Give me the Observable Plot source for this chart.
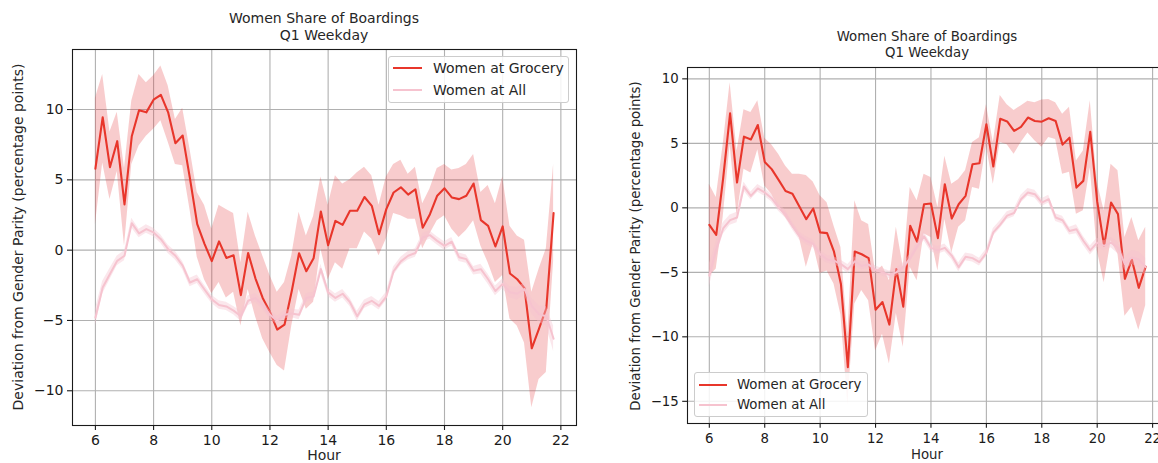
<!DOCTYPE html>
<html>
<head>
<meta charset="utf-8">
<script src="https://cdn.jsdelivr.net/npm/d3@7"></script>
<script src="https://cdn.jsdelivr.net/npm/@observablehq/plot@0.6"></script>
<style>
  html, body { margin: 0; padding: 0; background: #fff; overflow: hidden; }
  #wrap { position: relative; width: 1158px; height: 463px; overflow: hidden; background: #fff;
          font-family: "DejaVu Sans", sans-serif; color: #262626; }
  .pl { position: absolute; top: 0; }
  .pl svg { max-width: none !important; }
  .txt { position: absolute; white-space: nowrap; line-height: 1; }
  .title { position: absolute; text-align: center; white-space: nowrap; transform: translateX(-50%); }
  .ylab { position: absolute; white-space: nowrap; transform: translate(-50%, -50%) rotate(-90deg); line-height: 1; }
  .legend { position: absolute; background: rgba(255,255,255,0.85); border: 1px solid #cccccc; border-radius: 3px; box-sizing: border-box; }
  .legend .sw { position: absolute; height: 2px; }
  .legend .lt { position: absolute; white-space: nowrap; line-height: 1; transform: translateY(-50%); }
</style>
</head>
<body>
<div id="wrap"></div>
<script>
// ---- data (15-minute bins, Q1 weekday) ----
const hours = [
  6, 6.25, 6.5, 6.75, 7, 7.25, 7.5, 7.75,
  8, 8.25, 8.5, 8.75, 9, 9.25, 9.5, 9.75,
  10, 10.25, 10.5, 10.75, 11, 11.25, 11.5, 11.75,
  12, 12.25, 12.5, 12.75, 13, 13.25, 13.5, 13.75,
  14, 14.25, 14.5, 14.75, 15, 15.25, 15.5, 15.75,
  16, 16.25, 16.5, 16.75, 17, 17.25, 17.5, 17.75,
  18, 18.25, 18.5, 18.75, 19, 19.25, 19.5, 19.75,
  20, 20.25, 20.5, 20.75, 21, 21.25, 21.5, 21.75
];

// Left panel
const leftGrocery = [
  5.8, 9.45, 5.9, 7.75, 3.25, 8.1, 9.95, 9.8,
  10.7, 11.05, 9.8, 7.6, 8.15, 5.1, 1.85, 0.45,
  -0.78, 0.62, -0.55, -0.37, -3.2, -0.2, -2.0, -3.4,
  -4.4, -5.65, -5.3, -2.9, -0.22, -1.5, -0.58, 2.75,
  0.35, 2.08, 1.8, 2.8, 2.8, 3.78, 3.15, 1.13,
  2.92, 4.1, 4.47, 3.95, 4.33, 1.6, 2.56, 3.87,
  4.4, 3.75, 3.63, 3.87, 4.74, 2.14, 1.73, 0.26,
  1.69, -1.66, -2.07, -2.7, -6.98, -5.58, -4.13, 2.64
];
const leftGroceryHi = [
  10.8, 12.5, 8.4, 9.8, 5.8, 10.6, 12.5, 11.9,
  12.4, 13.1, 11.7, 9.3, 10.1, 7.2, 4.1, 3.2,
  1.5, 3.2, 2.9, 2.6, -0.9, 2.7, 1.0, -0.4,
  -1.8, -3.0, -2.3, -0.4, 2.7, 1.0, 2.4, 5.2,
  3.2, 5.3, 4.7, 5.0, 5.5, 5.9, 5.3, 3.2,
  5.2, 6.1, 6.4, 5.4, 5.9, 3.3, 4.35, 5.8,
  6.1, 5.7, 5.8, 6.1, 6.8, 4.1, 4.6, 3.3,
  5.2, 1.7, 1.0, 0.7, -3.0, -1.35, 0.1, 6.1
];
const leftGroceryLo = [
  1.8, 6.2, 3.6, 5.6, 0.3, 6.1, 7.4, 8.1,
  8.6, 9.2, 7.7, 6.1, 6.0, 2.9, -0.5, -2.1,
  -3.1, -2.3, -3.4, -3.0, -5.4, -2.8, -4.7, -6.3,
  -7.3, -8.2, -8.6, -5.4, -2.8, -4.2, -3.7, 0.1,
  -2.1, -0.9, -1.35, 0.1, 0.1, 1.3, 0.8, -0.4,
  0.8, 2.6, 2.45, 2.2, 2.2, 0.1, 1.15, 2.1,
  2.45, 1.5, 0.9, 1.4, 2.1, 0.3, -0.9, -2.3,
  -1.8, -4.9, -5.4, -6.6, -11.2, -9.2, -8.7, -0.8
];
const leftAll = [
  -4.8, -2.66, -1.7, -0.76, -0.4, 1.92, 1.19, 1.5,
  1.26, 0.78, 0.07, -0.4, -1.1, -2.3, -2.07, -2.8,
  -3.5, -3.9, -4.0, -4.3, -4.7, -3.6, -3.4, -3.9,
  -4.6, -5.0, -4.6, -4.5, -4.6, -3.4, -3.3, -1.35,
  -3.0, -3.4, -3.1, -3.7, -4.7, -3.85, -3.6, -3.96,
  -3.3, -1.5, -0.8, -0.4, -0.2, 0.9, 1.07, 0.66,
  0.3, 0.6, -0.5, -0.64, -1.47, -1.35, -2.07, -2.9,
  -2.4, -3.0, -3.1, -2.76, -3.97, -4.56, -4.7, -6.3
];
const leftAllErr = [
  0.6, 0.45, 0.4, 0.35, 0.35, 0.35, 0.3, 0.3,
  0.3, 0.3, 0.3, 0.3, 0.3, 0.3, 0.3, 0.3,
  0.3, 0.3, 0.3, 0.3, 0.35, 0.35, 0.3, 0.3,
  0.3, 0.3, 0.3, 0.3, 0.35, 0.3, 0.3, 0.35,
  0.3, 0.3, 0.3, 0.3, 0.35, 0.3, 0.3, 0.3,
  0.3, 0.3, 0.3, 0.3, 0.3, 0.3, 0.3, 0.3,
  0.3, 0.3, 0.3, 0.3, 0.3, 0.35, 0.35, 0.35,
  0.35, 0.4, 0.45, 0.45, 0.55, 0.6, 0.7, 0.9
];

// Right panel
const rightGrocery = [
  -1.32, -2.1, 2.3, 7.33, 1.96, 5.52, 5.3, 6.42,
  3.56, 3.0, 2.17, 1.3, 1.1, 0.1, -0.88, -0.05,
  -1.9, -1.96, -3.4, -5.9, -12.36, -3.38, -3.6, -3.9,
  -7.9, -7.3, -9.05, -4.75, -7.66, -1.39, -2.63, 0.28,
  0.34, -2.35, 1.83, -0.83, 0.28, 0.93, 3.38, 3.46,
  6.48, 3.2, 6.9, 6.7, 5.96, 6.27, 7.0, 6.73,
  6.68, 6.94, 6.73, 4.9, 5.44, 1.57, 2.09, 5.9,
  0.5, -2.95, 0.41, -0.49, -5.5, -4.0, -6.2, -4.56
];
const rightGroceryHi = [
  1.83, 0.8, 4.9, 9.7, 4.4, 7.6, 7.4, 8.3,
  5.4, 4.9, 4.15, 3.25, 2.6, 2.6, 2.5, 2.0,
  0.93, 0.4, -1.4, -3.07, -9.8, 0.54, -1.0, -1.3,
  -5.0, -4.5, -5.65, -1.5, -4.6, 1.57, 0.54, 2.6,
  2.35, 0.03, 4.0, 1.83, 2.2, 2.9, 5.06, 5.44,
  8.0, 5.06, 8.7, 8.0, 7.55, 7.9, 8.27, 8.15,
  8.36, 8.4, 8.15, 7.25, 7.8, 3.64, 4.4, 8.3,
  2.0, -0.23, 3.38, 2.87, -2.3, -0.75, -2.55, -1.5
];
const rightGroceryLo = [
  -5.3, -4.75, -0.75, 4.9, -0.6, 3.0, 2.7, 4.5,
  1.7, 1.06, 0.03, -0.75, -1.5, -2.3, -4.6, -2.8,
  -5.1, -4.9, -5.9, -8.3, -15.3, -7.46, -6.4, -7.2,
  -11.1, -9.8, -12.1, -8.2, -10.8, -4.6, -5.65, -2.0,
  -2.3, -4.9, -0.9, -3.5, -1.5, -1.0, 1.57, 1.44,
  4.8, 1.83, 5.06, 4.9, 4.15, 5.05, 5.8, 5.2,
  4.7, 5.45, 5.3, 2.6, 2.75, -0.49, -0.23, 3.1,
  -3.3, -5.8, -2.55, -3.6, -8.4, -7.7, -9.5, -7.6
];
const rightAll = [
  -5.26, -3.2, -1.6, -0.95, -0.75, 1.65, 0.93, 1.5,
  1.19, 0.75, 0.03, -0.49, -1.4, -2.17, -2.55, -2.8,
  -3.6, -4.0, -4.1, -4.36, -4.75, -4.15, -4.5, -4.4,
  -4.8, -5.0, -5.2, -5.0, -4.6, -3.9, -3.0, -2.2,
  -3.1, -3.3, -3.1, -3.7, -4.6, -3.8, -3.9, -4.2,
  -3.5, -1.9, -1.3, -0.6, -0.4, 0.67, 1.19, 1.06,
  0.41, 0.67, -0.75, -0.96, -1.8, -1.66, -2.55, -3.3,
  -2.7, -2.95, -2.7, -3.1, -4.36, -3.85, -4.0, -4.6
];
const rightAllErr = [
  0.9, 0.6, 0.45, 0.4, 0.4, 0.35, 0.3, 0.3,
  0.3, 0.3, 0.3, 0.3, 0.3, 0.3, 0.3, 0.3,
  0.3, 0.3, 0.3, 0.3, 0.35, 0.35, 0.3, 0.3,
  0.3, 0.3, 0.3, 0.3, 0.35, 0.3, 0.3, 0.35,
  0.3, 0.3, 0.3, 0.3, 0.35, 0.3, 0.3, 0.3,
  0.3, 0.3, 0.3, 0.3, 0.3, 0.3, 0.3, 0.3,
  0.3, 0.3, 0.3, 0.3, 0.3, 0.35, 0.35, 0.35,
  0.35, 0.4, 0.4, 0.45, 0.5, 0.55, 0.6, 0.7
];

const xTicks = [6, 8, 10, 12, 14, 16, 18, 20, 22];
const leftYTicks = [-10, -5, 0, 5, 10];
const rightYTicks = [-15, -10, -5, 0, 5, 10];
const titleText = ["Women Share of Boardings", "Q1 Weekday"];
const yLabel = "Deviation from Gender Parity (percentage points)";
const xLabel = "Hour";
const seriesNames = ["Women at Grocery", "Women at All"];

// ---- styling ----
const RED = "#e8362b";
const BAND = "#e33b3f";
const PINK = "#f6c3cf";
const GRID = "#b0b0b0";
const fmt = d => d < 0 ? "\u2212" + Math.abs(d) : String(d);

function rowsOf(g, gHi, gLo, a, aErr) {
  return hours.map((h, i) => ({
    hour: h, g: g[i], gHi: gHi[i], gLo: gLo[i],
    a: a[i], aHi: a[i] + aErr[i], aLo: a[i] - aErr[i]
  }));
}

function panel(o) {
  const rows = rowsOf(o.g, o.gHi, o.gLo, o.a, o.aErr);
  return Plot.plot({
    width: o.width, height: 463,
    marginLeft: o.ml, marginRight: o.mr, marginTop: o.mt, marginBottom: o.mb,
    x: {domain: [5.2125, 22.5375]},
    y: {domain: o.yDomain},
    style: {fontFamily: "DejaVu Sans, sans-serif", fontSize: o.fs + "px", color: "#1a1a1a", background: "transparent", overflow: "visible", maxWidth: "none"},
    marks: [
      Plot.gridX(xTicks, {stroke: GRID, strokeOpacity: 1, strokeWidth: 1.1}),
      Plot.gridY(o.yTicks, {stroke: GRID, strokeOpacity: 1, strokeWidth: 1.1}),
      Plot.areaY(rows, {x: "hour", y1: "gLo", y2: "gHi", fill: BAND, fillOpacity: 0.26}),
      Plot.line(rows, {x: "hour", y: "g", stroke: RED, strokeWidth: 2.1}),
      Plot.areaY(rows, {x: "hour", y1: "aLo", y2: "aHi", fill: PINK, fillOpacity: 0.4}),
      Plot.line(rows, {x: "hour", y: "a", stroke: PINK, strokeWidth: 2}),
      Plot.frame({stroke: "#1a1a1a", strokeWidth: 1.1}),
      Plot.axisX(xTicks, {tickSize: o.ts, tickPadding: o.tp, tickFormat: d => String(d), label: null, strokeWidth: 1.1}),
      Plot.axisY(o.yTicks, {tickSize: o.ts, tickPadding: 4, tickFormat: fmt, label: null, strokeWidth: 1.1})
    ]
  });
}

const wrap = document.getElementById("wrap");

function addPlot(svg, left, width) {
  const d = document.createElement("div");
  d.className = "pl";
  d.style.left = left + "px";
  d.style.width = width + "px";
  d.appendChild(svg);
  wrap.appendChild(d);
}

addPlot(panel({
  width: 580, ml: 72, mr: 4, mt: 49, mb: 38, fs: 14, ts: 5, tp: 5,
  yDomain: [-12.47, 14.27], yTicks: leftYTicks,
  g: leftGrocery, gHi: leftGroceryHi, gLo: leftGroceryLo, a: leftAll, aErr: leftAllErr
}), 0, 580);

addPlot(panel({
  width: 600, ml: 107, mr: 13, mt: 67, mb: 40, fs: 13.3, ts: 4.8, tp: 5,
  yDomain: [-16.72, 10.88], yTicks: rightYTicks,
  g: rightGrocery, gHi: rightGroceryHi, gLo: rightGroceryLo, a: rightAll, aErr: rightAllErr
}), 580, 600);

function addTitle(cx, top, fs) {
  const t = document.createElement("div");
  t.className = "title";
  t.style.left = cx + "px";
  t.style.top = top + "px";
  t.style.fontSize = fs + "px";
  t.style.lineHeight = (fs * 1.2) + "px";
  t.innerHTML = titleText.join("<br>");
  wrap.appendChild(t);
}
function addText(cls, x, y, fs, text, center) {
  const t = document.createElement("div");
  t.className = cls;
  t.style.left = x + "px";
  t.style.top = y + "px";
  t.style.fontSize = fs + "px";
  if (center) t.style.transform = "translateX(-50%)";
  t.textContent = text;
  wrap.appendChild(t);
}
function addYLabel(cx, cy, fs) {
  const t = document.createElement("div");
  t.className = "ylab";
  t.style.left = cx + "px";
  t.style.top = cy + "px";
  t.style.fontSize = fs + "px";
  t.textContent = yLabel;
  wrap.appendChild(t);
}
function addLegend(x, y, w, h, fs, rowY, swX, swW, txX) {
  const L = document.createElement("div");
  L.className = "legend";
  L.style.left = x + "px"; L.style.top = y + "px";
  L.style.width = w + "px"; L.style.height = h + "px";
  const colors = [RED, PINK];
  seriesNames.forEach((name, i) => {
    const s = document.createElement("div");
    s.className = "sw";
    s.style.left = (swX - x) + "px";
    s.style.width = swW + "px";
    s.style.top = (rowY[i] - y - 1) + "px";
    s.style.background = colors[i];
    L.appendChild(s);
    const t = document.createElement("div");
    t.className = "lt";
    t.style.left = (txX - x) + "px";
    t.style.top = (rowY[i] - y) + "px";
    t.style.fontSize = fs + "px";
    t.textContent = name;
    L.appendChild(t);
  });
  wrap.appendChild(L);
}

// Left panel texts
addTitle(324, 10, 14);
addYLabel(18, 237, 14);
addText("txt", 324, 448, 14, xLabel, true);
addLegend(388, 56, 181, 47, 14, [67, 88.5], 392, 29, 432);

// Right panel texts
addTitle(927, 29, 13.3);
addYLabel(636, 246, 13.3);
addText("txt", 927, 448, 13.3, xLabel, true);
addLegend(694, 372, 174, 45, 13.3, [383.5, 403.5], 698, 28, 736);
</script>
</body>
</html>
